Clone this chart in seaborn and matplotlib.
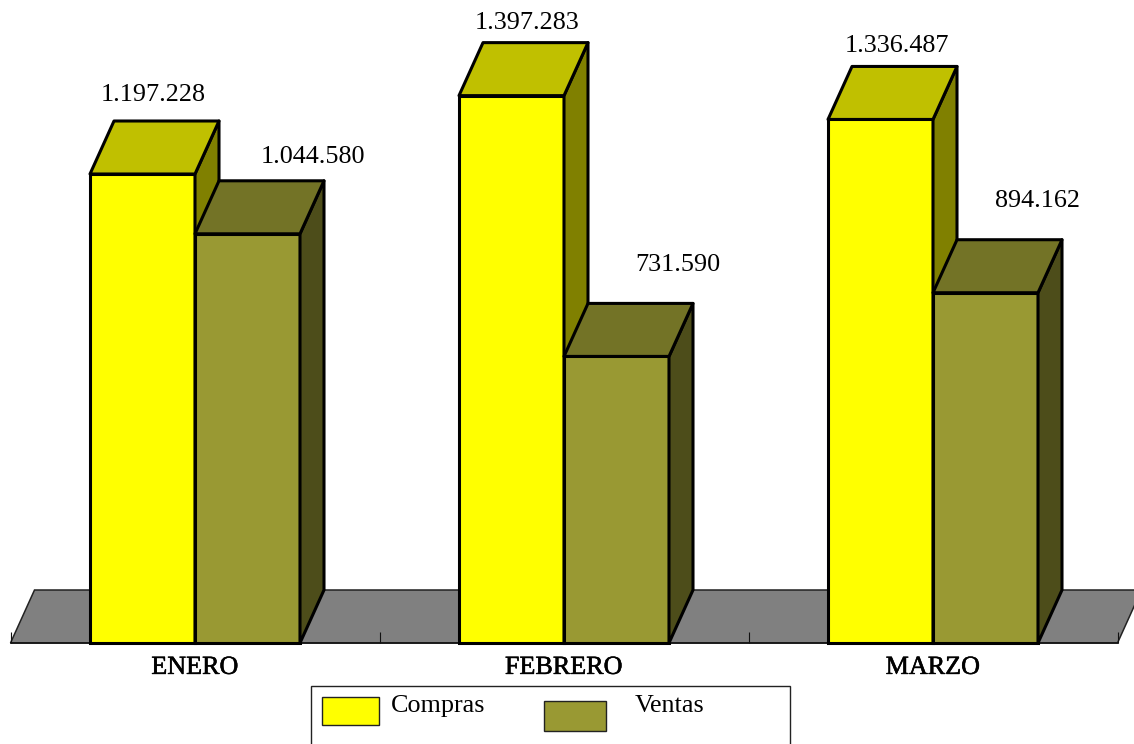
import pandas as pd
import matplotlib.pyplot as plt
from matplotlib.patches import Polygon, Rectangle
import matplotlib.patheffects as pe
import seaborn as sns

# chart values
meses = ['ENERO', 'FEBRERO', 'MARZO']
compras = [1197228, 1397283, 1336487]
ventas = [1044580, 731590, 894162]
series = ['Compras', 'Ventas']

# face colours: front, top, side
colores = {'Compras': ('#FFFF00', '#C0C000', '#808000'),
           'Ventas': ('#999933', '#737326', '#4D4D1A')}

# label shift from the bar's top centre, pixels (x, y up)
desp_compras = [(11, 73), (16, 67), (16, 67)]
desp_ventas = [(65, 71), (61, 85), (52, 86)]

W, H = 1134, 744
BASE = 643         # baseline row in pixels
CENTRO = 195       # centre of first group in pixels
PASO = 369         # pixels between groups
PX_POR_UNIDAD = 469 / 1197228
DX, DY = 24 / PASO, 53 / PX_POR_UNIDAD  # 3D depth in data units
FUENTE = 18.8

sns.set_theme(style='white')
plt.rcParams['font.family'] = ['Liberation Serif', 'DejaVu Serif']

df = pd.DataFrame({
    'mes': meses * 2,
    'serie': [series[0]] * 3 + [series[1]] * 3,
    'valor': compras + ventas,
})

fig = plt.figure(figsize=(W / 100, H / 100), dpi=100)
ax = fig.add_axes([0, 0, 1, 1])
ax.patch.set_alpha(0)

sns.barplot(data=df, x='mes', y='valor', hue='serie', hue_order=series,
            palette={s: colores[s][0] for s in series}, saturation=1,
            width=210 / PASO, gap=0, edgecolor='black', linewidth=2.2,
            legend=False, ax=ax)

ax.set_xlim(-CENTRO / PASO, (W - CENTRO) / PASO)
ax.set_ylim(-(H - BASE) / PX_POR_UNIDAD, BASE / PX_POR_UNIDAD)

# floor
bordes = [-0.5, 0.5, 1.5, 2.5]
ax.add_patch(Polygon([(bordes[0], 0), (bordes[-1], 0), (bordes[-1] + DX, DY), (bordes[0] + DX, DY)],
                     closed=True, facecolor='#808080', edgecolor='#222222', linewidth=1.1, zorder=1))

# top and side faces of each bar
for n, (serie, cont) in enumerate(zip(series, ax.containers)):
    desp = desp_compras if n == 0 else desp_ventas
    _, c_top, c_side = colores[serie]
    for bar, (ox, oy) in zip(cont, desp):
        x0, x1 = bar.get_x(), bar.get_x() + bar.get_width()
        h = bar.get_height()
        bar.set_zorder(3 + n)
        ax.add_patch(Polygon([(x1, 0), (x1 + DX, DY), (x1 + DX, h + DY), (x1, h)], closed=True,
                             facecolor=c_side, edgecolor='black', linewidth=2.2,
                             joinstyle='round', zorder=3 + n))
        ax.add_patch(Polygon([(x0, h), (x0 + DX, h + DY), (x1 + DX, h + DY), (x1, h)], closed=True,
                             facecolor=c_top, edgecolor='black', linewidth=2.2,
                             joinstyle='round', zorder=3 + n))
        etiqueta = f'{int(h):,}'.replace(',', '.')
        ax.annotate(etiqueta, xy=((x0 + x1) / 2, h), xytext=(ox, oy), textcoords='offset pixels',
                    ha='center', va='baseline', fontsize=FUENTE, color='black', zorder=6)

# axis: only the bottom line, ticks at group edges
ax.set_axisbelow(False)
for lado in ['top', 'left', 'right']:
    ax.spines[lado].set_visible(False)
ax.spines['bottom'].set_position(('data', 0))
ax.spines['bottom'].set_color('#111111')
ax.spines['bottom'].set_linewidth(1.1)
ax.spines['bottom'].set_bounds(bordes[0], bordes[-1])
ax.set_yticks([])
ax.set_xlabel('')
ax.set_ylabel('')
ax.set_xticks(range(len(meses)))
ax.set_xticklabels(meses, fontsize=FUENTE, color='black',
                   path_effects=[pe.withStroke(linewidth=0.4, foreground='black')])
ax.set_xticks(bordes, minor=True)
ax.tick_params(axis='x', which='major', length=0, pad=10)
ax.tick_params(axis='x', which='minor', direction='in', length=8, width=0.8, color='#111111', bottom=True)


def px_rect(x0, y0, x1, y1, **kw):
    # rectangle given in image pixels, y measured from the top
    fig.add_artist(Rectangle((x0 / W, 1 - y1 / H), (x1 - x0) / W, (y1 - y0) / H,
                             transform=fig.transFigure, **kw))


# legend box runs off the bottom of the image
px_rect(311, 686, 790, 760, facecolor='white', edgecolor='#222222', linewidth=1.0)
px_rect(322, 697, 379, 725, facecolor=colores['Compras'][0], edgecolor='#222222', linewidth=1.0)
px_rect(544, 701, 606, 731, facecolor=colores['Ventas'][0], edgecolor='#222222', linewidth=1.0)
fig.text(391 / W, 1 - 712 / H, series[0], fontsize=FUENTE, color='black', va='baseline')
fig.text(635 / W, 1 - 712 / H, series[1], fontsize=FUENTE, color='black', va='baseline')

fig.savefig('out.png', dpi=100, facecolor='white')
